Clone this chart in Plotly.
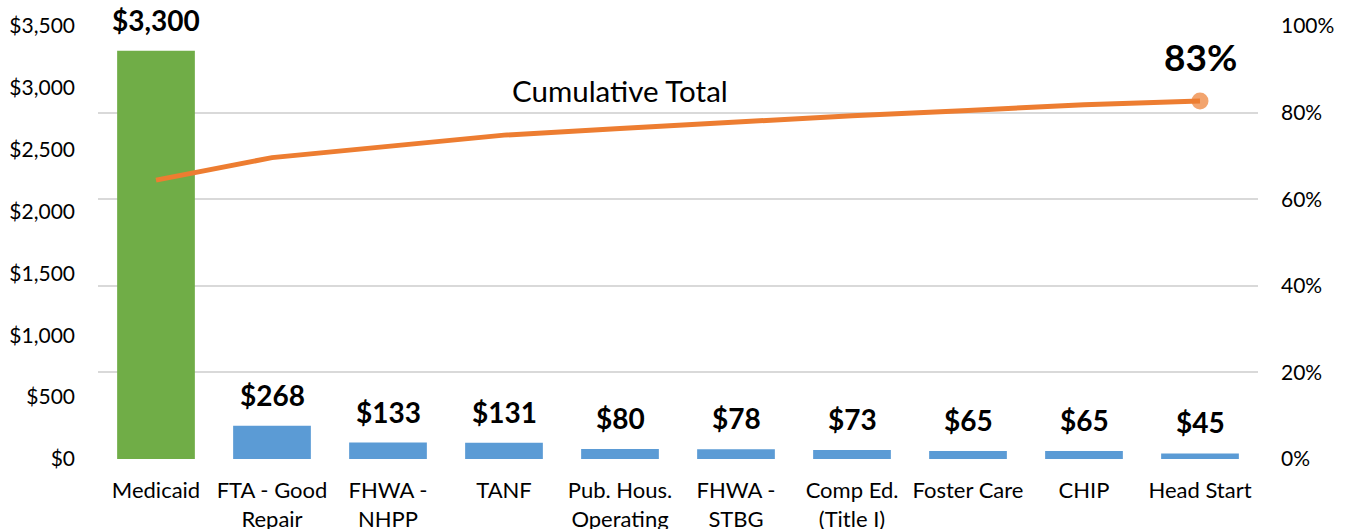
import plotly.graph_objects as go

categories = ["Medicaid", "FTA - Good<br>Repair", "FHWA -<br>NHPP", "TANF", "Pub. Hous.<br>Operating",
              "FHWA -<br>STBG", "Comp Ed.<br>(Title I)", "Foster Care", "CHIP", "Head Start"]
amounts = [3300, 268, 133, 131, 80, 78, 73, 65, 65, 45]
cumulative_pct = [64.4, 69.6, 72.2, 74.8, 76.3, 77.9, 79.3, 80.5, 81.8, 82.7]
bar_colors = ["#70AD47"] + ["#5B9BD5"] * 9
left_ticks = [0, 500, 1000, 1500, 2000, 2500, 3000, 3500]
right_ticks = [0, 20, 40, 60, 80, 100]

FONT = "Lato, Calibri, sans-serif"
x_idx = list(range(len(categories)))

fig = go.Figure()
fig.add_trace(go.Bar(x=x_idx, y=amounts, marker=dict(color=bar_colors, line=dict(width=0)),
                     width=0.67, yaxis="y", showlegend=False, hoverinfo="skip"))
fig.add_trace(go.Scatter(x=x_idx, y=cumulative_pct, yaxis="y2", mode="lines+markers",
                         line=dict(color="#ED7D31", width=5),
                         marker=dict(size=[0] * 9 + [17], color="#ED7D31", line=dict(width=0)),
                         showlegend=False, hoverinfo="skip", cliponaxis=False))

annotations = []
for i, v in enumerate(amounts):
    annotations.append(dict(x=i, y=v, xref="x", yref="y", text=f"<b>${v:,}</b>",
                            showarrow=False, yanchor="bottom", yshift=12,
                            font=dict(family=FONT, size=28, color="#000")))
annotations.append(dict(x=4, y=85.2, xref="x", yref="y2", text="Cumulative Total",
                        showarrow=False, font=dict(family=FONT, size=29.5, color="#000")))
annotations.append(dict(x=9, y=cumulative_pct[-1], xref="x", yref="y2",
                        text=f"<b>{round(cumulative_pct[-1])}%</b>", showarrow=False,
                        yanchor="bottom", yshift=20, font=dict(family=FONT, size=37, color="#000")))

fig.update_layout(
    width=1347, height=529,
    margin=dict(l=98, r=89, t=26, b=70),
    paper_bgcolor="white", plot_bgcolor="white",
    font=dict(family=FONT, size=21, color="#000"),
    xaxis=dict(tickmode="array", tickvals=x_idx, ticktext=categories, range=[-0.5, 9.5],
               showgrid=False, zeroline=False, showline=False, ticks="", automargin=False,
               ticklabelstandoff=16, tickfont=dict(size=22)),
    yaxis=dict(range=[0, 3500], tickvals=left_ticks, ticktext=[f"${t:,}" for t in left_ticks],
               showgrid=False, zeroline=False, showline=False, ticks="", automargin=False,
               ticklabelstandoff=22, tickfont=dict(size=21)),
    yaxis2=dict(range=[0, 100], tickvals=right_ticks, ticktext=[f"{t}%" for t in right_ticks],
                overlaying="y", side="right", showgrid=True, gridcolor="#D9D9D9", gridwidth=2,
                zeroline=False, showline=False, ticks="", ticklabelstandoff=22, automargin=False,
                tickfont=dict(size=21)),
    annotations=annotations,
    bargap=0.33,
)

fig.write_html("out.html", config={"displayModeBar": False},
               post_script="document.body.style.margin='0';")
